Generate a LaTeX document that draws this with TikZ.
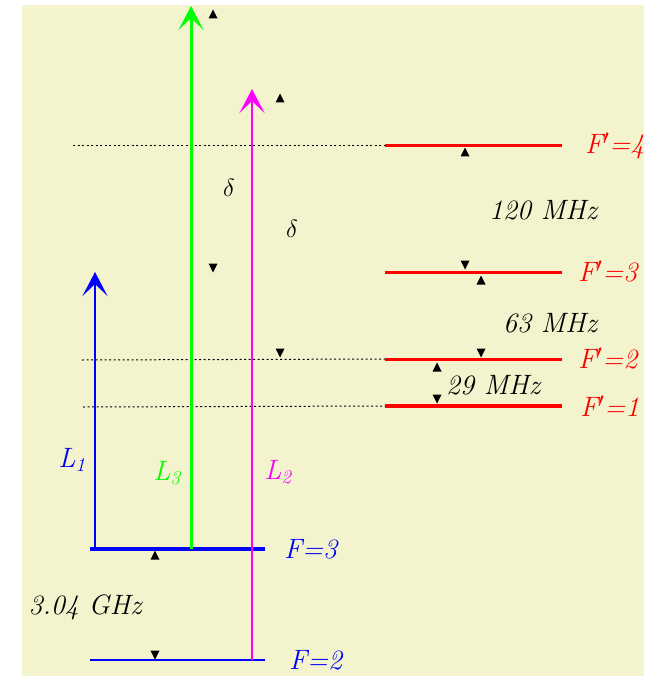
\documentclass[tikz,border=0pt]{standalone}
\usepackage{xcolor}
\usepackage{tikz}
\usetikzlibrary{arrows.meta,positioning}
\definecolor{paper}{RGB}{243,244,206}
\definecolor{lasblue}{RGB}{0,0,255}
\definecolor{lasgreen}{RGB}{0,255,0}
\definecolor{lasmag}{RGB}{255,0,255}
\definecolor{lvlred}{RGB}{255,0,0}

\begin{document}
\begin{tikzpicture}[
    x=1pt, y=-1pt,
    level/.style={line width=2.5pt},
    beam/.style={-{Stealth[length=24pt,width=25pt,inset=12pt]}, line width=2.5pt},
    guide/.style={dash pattern=on 2pt off 2.5pt, line width=1pt},
    lbl/.style={font=\fontsize{28}{30}\selectfont\itshape, inner sep=0pt},
    tup/.pic={\fill (-4.5,4.5) -- (0,-4.5) -- (4.5,4.5) -- cycle;},
    tdown/.pic={\fill (-4.5,-4.5) -- (0,4.5) -- (4.5,-4.5) -- cycle;}
  ]
  \useasboundingbox (0,0) rectangle (644,676);
  \fill[paper] (22,5) rectangle (644,676);

  % level end points
  \coordinate (g2w) at (90,660);  \coordinate (g2e) at (265,660);
  \coordinate (g3w) at (90,549);  \coordinate (g3e) at (265,549);
  \coordinate (e1w) at (385,406); \coordinate (e1e) at (562,406);
  \coordinate (e2w) at (385,359); \coordinate (e2e) at (562,359);
  \coordinate (e3w) at (385,272); \coordinate (e3e) at (562,272);
  \coordinate (e4w) at (385,146); \coordinate (e4e) at (562,146);

  % dotted guides
  \coordinate (d4) at (73,146);
  \coordinate (d2) at (82,360);
  \coordinate (d1) at (83,407);
  \draw[guide] (d4) -- (e4w);
  \draw[guide] (d2) -- (e2w);
  \draw[guide] (d1) -- (e1w);

  % hyperfine levels
  \draw[level, lasblue] (g2w) -- (g2e);
  \draw[level, lasblue, line width=4pt] (g3w) -- (g3e);
  \draw[level, lvlred, line width=4pt] (e1w) -- (e1e);
  \draw[level, lvlred, line width=3pt] (e2w) -- (e2e);
  \draw[level, lvlred, line width=3pt] (e3w) -- (e3e);
  \draw[level, lvlred, line width=3pt] (e4w) -- (e4e);

  % lasers
  \coordinate (l1s) at (95,549);  \coordinate (l1t) at (95,272);
  \coordinate (l3s) at (191,549); \coordinate (l3t) at (191,6);
  \coordinate (l2s) at (252,660); \coordinate (l2t) at (252,89);
  \draw[beam, lasblue] (l1s) -- (l1t);
  \draw[beam, lasgreen, line width=3pt] (l3s) -- (l3t);
  \draw[beam, lasmag] (l2s) -- (l2t);

  % spacing marks
  \pic at (155,555) {tup};   \pic at (155,655) {tdown};
  \pic at (465,152) {tup};   \pic at (465,265) {tdown};
  \pic at (481,280) {tup};   \pic at (481,353) {tdown};
  \pic at (437,367) {tup};   \pic at (437,399) {tdown};
  \pic at (213,14) {tup};    \pic at (213,268) {tdown};
  \pic at (280,98) {tup};    \pic at (280,353) {tdown};

  % labels
  \node[lbl, lasblue, anchor=west] (f2) at (289,660) {F=2};
  \node[lbl, lasblue, anchor=west] (f3) at (284,549) {F=3};
  \node[lbl, lvlred, anchor=west] (fp1) at (580,406) {F$'$=1};
  \node[lbl, lvlred, anchor=west] (fp2) at (578,359) {F$'$=2};
  \node[lbl, lvlred, anchor=west] (fp3) at (578,272) {F$'$=3};
  \node[lbl, lvlred, anchor=west] (fp4) at (585,146) {F$'$=4};
  \node[lbl, lasblue] (n1) at (72,460) {L\textsubscript{1}};
  \node[lbl, lasgreen] (n3) at (167,473) {L\textsubscript{3}};
  \node[lbl, lasmag] (n2) at (278,472) {L\textsubscript{2}};
  \node[lbl] (ground) at (85,607) {3.04 GHz};
  \node[lbl] (hf43) at (543,210) {120 MHz};
  \node[lbl] (hf32) at (550,323) {63 MHz};
  \node[lbl] (hf21) at (493,385) {29 MHz};
  \node[lbl] (det3) at (229,188) {$\delta$};
  \node[lbl] (det2) at (292,229) {$\delta$};
\end{tikzpicture}
\end{document}
